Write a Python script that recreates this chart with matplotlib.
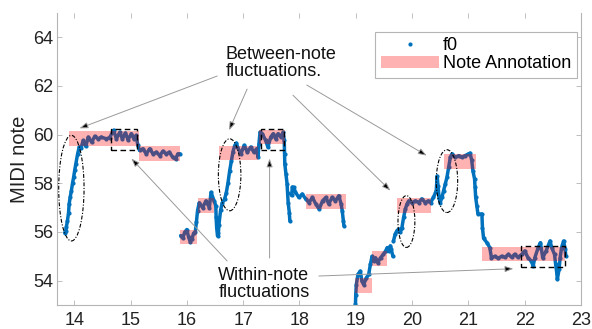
import numpy as np
import matplotlib
matplotlib.use("Agg")
import matplotlib.pyplot as plt
from matplotlib.patches import Ellipse, Rectangle

plt.rcParams['font.family'] = ['Liberation Sans', 'DejaVu Sans']

# ---- data ----
nan = np.nan
f0_time = [
    13.83, 13.85, 13.86, 13.88, 13.90, 13.91, 13.93, 13.95, 13.97, 13.99, 14.01, 14.03, 14.06, 14.09, 14.12,
    14.16, 14.205, 14.25, 14.31, 14.365, 14.425, 14.48, 14.57, 14.63, 14.70, 14.75, 14.81, 14.855, 14.91,
    14.955, 15.015, 15.06, 15.10, 15.13, 15.16, 15.22, 15.28, 15.34, 15.40, 15.46, 15.52, 15.575, 15.635,
    15.69, 15.75, 15.80, 15.84, 15.88, 15.885,
    15.89, 15.93, 15.96, 16.00, 16.03, 16.06, 16.09, 16.12, 16.15, 16.17, 16.19, 16.22, 16.28, 16.34, 16.40,
    16.43, 16.485, 16.515, 16.52, 16.53, 16.545, 16.56, 16.57, 16.60, 16.63, 16.67, 16.70, 16.73, 16.76,
    16.79, 16.82, 16.85, 16.88, 16.90, 16.96, 17.02, 17.075, 17.135, 17.19, 17.24, 17.265, 17.28,
    17.30, 17.34, 17.40, 17.44, 17.49, 17.535, 17.58, 17.62, 17.67, 17.71, 17.73, 17.735, 17.74, 17.76,
    17.78, 17.79, 17.80, 17.82, 17.83, 17.845,
    17.86, 17.875, 17.90, 17.93, 17.99, 18.05, 18.11, 18.17, 18.23, 18.29, 18.35, 18.41, 18.47, 18.52,
    18.58, 18.64, 18.70, 18.74, 18.76, 18.78, 18.79, 18.80,
    18.995, 19.00, 19.01, 19.04, 19.08, 19.11, 19.14, 19.19, 19.23, 19.26, 19.29, 19.32, 19.35, 19.39,
    19.44, 19.49, 19.53, 19.56, 19.585, 19.615, 19.63, 19.66, 19.665,
    19.67, 19.70, 19.73, 19.76, 19.79, 19.82, 19.85, 19.88, 19.91, 19.94, 20.00, 20.06, 20.12, 20.17,
    20.235, 20.29, 20.33, 20.38, 20.43, 20.445, 20.46, 20.48, 20.50, 20.53, 20.56, 20.59, 20.62, 20.65,
    20.68, 20.71, 20.77, 20.83, 20.88, 20.94, 21.00, 21.03, 21.06, 21.08, 21.11, 21.12, 21.13, 21.15,
    21.17, 21.24, 21.25, 21.27, 21.33, 21.38, 21.41, 21.47, 21.53, 21.59, 21.65, 21.71, 21.77, 21.82,
    21.88, 21.95, 22.00, 22.06, 22.12, 22.15, 22.18, 22.24, 22.28, 22.32, 22.38, 22.45, 22.48, 22.53,
    22.55, 22.57, 22.58, 22.61, 22.63, 22.655, 22.69, 22.72, 22.73,
]
f0_pitch = [
    55.97, 56.05, 56.20, 56.46, 56.80, 57.15, 57.45, 57.70, 58.00, 58.25, 58.55, 58.80, 59.20, 59.50, 59.45,
    59.76, 59.52, 59.90, 59.69, 59.93, 59.83, 59.90, 59.83, 59.88, 60.18, 59.83, 60.10, 59.83, 60.07,
    59.79, 60.04, 59.83, 59.97, 59.56, 59.35, 59.42, 59.21, 59.42, 59.21, 59.28, 59.14, 59.32, 59.21,
    59.28, 59.07, 59.00, 59.21, 59.21, nan,
    55.85, 55.75, 55.98, 56.10, 55.80, 55.60, 55.70, 55.95, 56.00, 56.40, 56.87, 57.20, 57.00, 57.28, 57.00,
    57.63, 57.28, 57.08, 56.60, 56.18, 55.84, 55.95, 56.30, 56.90, 57.20, 57.35, 57.60, 58.00, 58.50,
    58.90, 59.30, 59.55, 59.65, 59.49, 59.21, 59.56, 59.28, 59.49, 59.28, 59.42, 59.07, 59.60,
    60.10, 60.04, 59.76, 59.49, 59.90, 60.04, 59.83, 60.04, 59.90, 60.10, 59.76, 59.21, 58.80, 58.39,
    57.98, 57.60, 57.20, 56.80, 56.45, nan,
    57.50, 57.85, 57.83, 57.63, 57.42, 57.56, 57.36, 57.21, 57.42, 57.15, 56.94, 57.28, 57.42, 57.15,
    57.42, 57.28, 57.49, 57.15, 56.87, 56.46, 56.25, nan,
    53.02, 53.43, 53.84, 54.26, 54.39, 53.98, 53.84, 54.12, 54.26, 54.67, 55.00, 54.80, 54.94, 54.74,
    54.94, 55.08, 55.22, 55.36, 55.22, 55.43, 55.29, 55.00, nan,
    55.63, 55.91, 56.05, 56.12, 55.98, 56.18, 56.60, 56.94, 57.15, 57.28, 57.21, 57.28, 57.21, 57.36,
    57.21, 57.28, 57.21, 57.42, 57.70, 58.30, 57.90, 57.40, 57.21, 57.42, 57.70, 57.98, 58.25, 58.66,
    59.07, 59.21, 59.07, 59.14, 59.07, 59.14, 59.21, 59.24, 58.94, 58.52, 58.18, 57.83, 57.42, 57.08,
    56.74, 56.74, 56.18, 55.74, 55.56, 55.36, 54.94, 55.00, 54.92, 55.00, 54.96, 55.08, 54.96, 55.08,
    54.96, 55.08, 55.22, 54.94, 54.80, 54.60, 54.94, 55.36, 55.56, 54.94, 55.22, 55.63, 55.36, 55.08,
    54.67, 54.32, 54.05, 54.46, 54.94, 55.36, 55.63, 55.29, 55.00,
]

note_start = [13.91, 15.15, 15.88, 16.19, 16.57, 17.29, 18.11, 18.98, 19.29, 19.73, 20.56, 21.24]
note_end   = [15.15, 15.88, 16.18, 16.48, 17.27, 17.75, 18.82, 19.29, 19.56, 20.34, 21.14, 22.71]
note_pitch = [59.83, 59.23, 55.80, 57.10, 59.25, 59.90, 57.26, 53.80, 54.90, 57.10, 58.90, 55.10]

# dashed boxes (within-note): left, bottom, right, top
box_left   = [14.655, 17.31, 21.94]
box_right  = [15.12, 17.73, 22.72]
box_bottom = [59.35, 59.35, 54.57]
box_top    = [60.25, 60.25, 55.44]

# dash-dot ellipses (between-note): centre t, centre pitch, width, height
ell_t = [13.95, 16.76, 19.90, 20.62]
ell_p = [57.80, 58.35, 56.43, 58.09]
ell_w = [0.45, 0.40, 0.30, 0.38]
ell_h = [4.34, 2.96, 2.13, 2.58]

# arrows: (start) -> (end)
between_from = [(16.54, 62.41), (17.07, 61.87), (17.885, 61.62), (18.13, 62.04)]
between_to   = [(14.094, 60.26), (16.75, 60.18), (19.615, 57.70), (20.26, 59.14)]
within_from  = [(16.716, 54.81), (17.47, 54.93), (18.345, 54.19)]
within_to    = [(15.015, 59.02), (17.47, 59.02), (21.80, 54.49)]

xticks = [14, 15, 16, 17, 18, 19, 20, 21, 22, 23]
yticks = [54, 56, 58, 60, 62, 64]

# ---- figure ----
fig = plt.figure(figsize=(5.92, 3.29), dpi=100)
ax = fig.add_axes([0.0968, 0.073, 0.8846, 0.8875])

blue = '#0072BD'
ax.plot(f0_time, f0_pitch, '-', color=blue, lw=2.5, zorder=2, solid_capstyle='round',
        solid_joinstyle='round')
ax.plot(f0_time, f0_pitch, 'o', color=blue, ms=3.0, mew=0, zorder=2, label='f0')

starts = np.array(note_start)
ends = np.array(note_end)
ax.bar(starts, 0.6, width=ends - starts, bottom=np.array(note_pitch) - 0.3, align='edge',
       color='red', alpha=0.3, linewidth=0, zorder=3, label='Note Annotation')

for l, r, b, t in zip(box_left, box_right, box_bottom, box_top):
    ax.add_patch(Rectangle((l, b), r - l, t - b, fill=False, ls=(0, (4, 2.5)), lw=1.0,
                           ec='black', zorder=4))

for ct, cp, w, h in zip(ell_t, ell_p, ell_w, ell_h):
    ax.add_patch(Ellipse((ct, cp), w, h, fill=False, ls=(0, (3.5, 1.5, 1, 1.5)), lw=0.8,
                         ec='black', zorder=4))

for (x0, y0), (x1, y1) in zip(between_from + within_from, between_to + within_to):
    ax.annotate('', xy=(x1, y1), xytext=(x0, y0),
                arrowprops=dict(arrowstyle='-|>,head_length=0.5,head_width=0.18',
                                ec='#9a9a9a', fc='black', lw=0.7, shrinkA=0, shrinkB=0),
                zorder=5)

ax.text(16.684, 62.93, 'Between-note\nfluctuations.', ha='left', va='center', fontsize=13,
        linespacing=1.0, color='#111111')
ax.text(16.56, 53.86, 'Within-note\nfluctuations', ha='left', va='center', fontsize=13,
        linespacing=1.0, color='#111111')

ax.set_xlim(13.7, 23)
ax.set_ylim(53, 65)
ax.set_xticks(xticks)
ax.set_yticks(yticks)
ax.set_ylabel('MIDI note', fontsize=14.5, color='#222222', labelpad=3)

for s in ['left', 'bottom', 'right']:
    ax.spines[s].set_color('#b5b5b5')
    ax.spines[s].set_linewidth(0.8)
ax.spines['top'].set_visible(False)
ax.tick_params(direction='in', length=3.5, width=0.6, color='#b5b5b5', labelsize=13,
               labelcolor='#222222', top=True, right=True)
ax.tick_params(axis='x', pad=5)
ax.tick_params(axis='y', pad=3)

leg = ax.legend(loc='upper right', bbox_to_anchor=(0.992, 0.935), borderaxespad=0,
                fontsize=13, fancybox=False, framealpha=1, edgecolor='#b5b5b5',
                handlelength=3.2, handletextpad=0.25, labelspacing=0.05, borderpad=0.3,
                numpoints=1, markerscale=1.0)
leg.get_frame().set_linewidth(0.8)

fig.savefig('out.png', dpi=100)
